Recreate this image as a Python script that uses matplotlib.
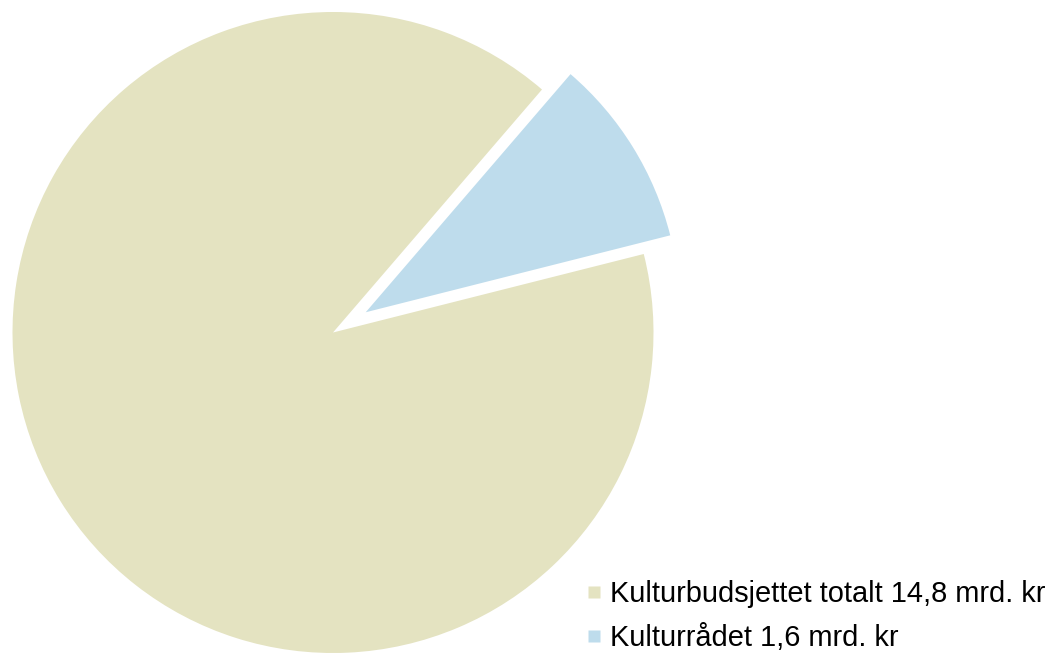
import numpy as np
import matplotlib.pyplot as plt
from matplotlib.lines import Line2D

# Data
labels = ['Kulturbudsjettet totalt 14,8 mrd. kr', 'Kulturrådet 1,6 mrd. kr']
values = [14.8, 1.6]
colors = ['#E4E3C1', '#BEDCEC']
explode = [0, 0.12]

W, H = 1054, 654
cx, cy, R = 333, 332.5, 320.5  # centre and radius in pixels

fig = plt.figure(figsize=(W / 100, H / 100), dpi=100)
ax = fig.add_axes([0, 0, 1, 1])
wedges, _ = ax.pie(values, colors=colors, explode=explode, startangle=49.3,
                   counterclock=True, wedgeprops={'linewidth': 0})
wedges[1].set_radius(0.98)
ax.set_aspect('auto')
ax.set_xlim(-cx / R, (W - cx) / R)
ax.set_ylim(-(H - cy) / R, cy / R)
ax.axis('off')

handles = [Line2D([], [], marker='s', linestyle='none', markersize=8,
                  markerfacecolor=c, markeredgecolor='none') for c in colors]
fig.legend(handles, labels, loc='lower left',
           bbox_to_anchor=(585 / W, 2 / H), frameon=False,
           prop={'family': 'Liberation Sans', 'size': 20.9},
           handlelength=0.6, handletextpad=0.25, labelspacing=0.55,
           borderpad=0, borderaxespad=0)

fig.savefig('out.png', dpi=100)
